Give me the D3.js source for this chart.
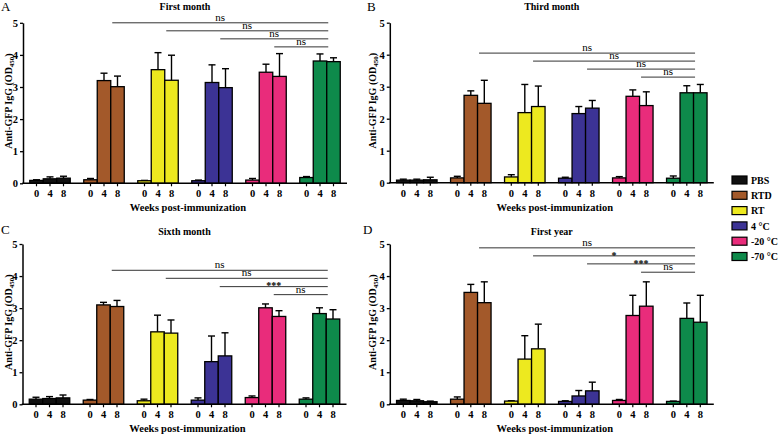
<!DOCTYPE html>
<html>
<head>
<meta charset="utf-8">
<script src="https://cdn.jsdelivr.net/npm/d3@7"></script>
<style>
  html, body { margin: 0; padding: 0; background: #fff; }
  svg { display: block; }
  text { font-family: "Liberation Serif", "Times New Roman", serif; }
</style>
</head>
<body>
<script>
// ---------------- DATA ----------------
const groups = ["PBS", "RTD", "RT", "4 °C", "-20 °C", "-70 °C"];
const weeks = ["0", "4", "8"];
const groupColors = ["#111111", "#a3592a", "#ede91f", "#3c3395", "#e92c7b", "#0e8a4b"];
const panelTitles = ["First month", "Third month", "Sixth month", "First year"];
const panelLetters = ["A", "B", "C", "D"];
const yTicks = [0, 1, 2, 3, 4, 5];

// means [group][week]
const firstMonthMean = [[0.09,0.14,0.16],[0.11,3.20,3.01],[0.08,3.54,3.21],[0.08,3.14,2.98],[0.10,3.46,3.33],[0.18,3.81,3.79]];
const firstMonthSD   = [[0.02,0.06,0.06],[0.04,0.23,0.33],[0.01,0.53,0.78],[0.02,0.55,0.59],[0.05,0.25,0.71],[0.03,0.22,0.12]];
const thirdMonthMean = [[0.08,0.08,0.09],[0.15,2.73,2.48],[0.18,2.19,2.38],[0.14,2.16,2.33],[0.15,2.70,2.41],[0.14,2.81,2.81]];
const thirdMonthSD   = [[0.03,0.03,0.08],[0.05,0.14,0.72],[0.07,0.88,0.64],[0.03,0.22,0.24],[0.04,0.20,0.43],[0.07,0.22,0.26]];
const sixthMonthMean = [[0.16,0.18,0.20],[0.13,3.10,3.05],[0.11,2.26,2.22],[0.13,1.33,1.51],[0.21,3.01,2.74],[0.16,2.83,2.66]];
const sixthMonthSD   = [[0.06,0.06,0.09],[0.02,0.08,0.19],[0.05,0.52,0.41],[0.07,0.80,0.72],[0.05,0.12,0.18],[0.04,0.18,0.29]];
const firstYearMean  = [[0.12,0.11,0.08],[0.16,3.49,3.17],[0.10,1.41,1.73],[0.09,0.26,0.42],[0.12,2.77,3.06],[0.09,2.68,2.56]];
const firstYearSD    = [[0.04,0.04,0.02],[0.07,0.25,0.65],[0.01,0.73,0.77],[0.02,0.17,0.27],[0.03,0.63,0.76],[0.01,0.48,0.84]];

// significance comparisons: each group vs "-70 °C" (week 8)
const sigFrom = ["RTD", "RT", "4 °C", "-20 °C"];
const sigTo = "-70 °C";
const sigHeightA = [5.00, 4.75, 4.50, 4.25];
const sigHeightB = [4.05, 3.80, 3.55, 3.30];
const sigHeightC = [4.18, 3.93, 3.67, 3.42];
const sigHeightD = [4.88, 4.63, 4.38, 4.12];
const sigLabelA = ["ns", "ns", "ns", "ns"];
const sigLabelB = ["ns", "ns", "ns", "ns"];
const sigLabelC = ["ns", "ns", "***", "ns"];
const sigLabelD = ["ns", "*", "***", "ns"];

const panelMeans = [firstMonthMean, thirdMonthMean, sixthMonthMean, firstYearMean];
const panelSDs = [firstMonthSD, thirdMonthSD, sixthMonthSD, firstYearSD];
const panelSigH = [sigHeightA, sigHeightB, sigHeightC, sigHeightD];
const panelSigL = [sigLabelA, sigLabelB, sigLabelC, sigLabelD];

// ---------------- LAYOUT ----------------
const W = 778, H = 434;
const plotW = 324;
const boxes = [
  { left: 23,    top: 22.8,  bottom: 183.3, titleY: 10.3,  letterX: 1,   letterY: 11,  ylabX: 8 },
  { left: 389.8, top: 22.7,  bottom: 182.7, titleY: 10.3,  letterX: 367, letterY: 11,  ylabX: 372 },
  { left: 22.5,  top: 244.0, bottom: 404.3, titleY: 234.8, letterX: 1,   letterY: 233.5, ylabX: 8 },
  { left: 389.8, top: 244.0, bottom: 404.3, titleY: 235.2, letterX: 363, letterY: 233.5, ylabX: 372 }
];

const svg = d3.select("body").append("svg").attr("width", W).attr("height", H);

boxes.forEach((b, pi) => {
  const g = svg.append("g");
  const x = d3.scaleBand().domain(groups).range([b.left, b.left + plotW])
    .paddingInner(0.25).paddingOuter(0.125);
  const xw = d3.scaleBand().domain(weeks).range([0, x.bandwidth()]);
  const y = d3.scaleLinear().domain([0, 5]).range([b.bottom, b.top]);

  const means = panelMeans[pi], sds = panelSDs[pi];
  const cells = [];
  groups.forEach((gr, gi) => weeks.forEach((w, wi) => {
    cells.push({ g: gr, w: w, gi: gi, m: means[gi][wi], sd: sds[gi][wi] });
  }));

  // error bars (up only)
  const eb = g.append("g").attr("stroke", "#000").attr("stroke-width", 1.4);
  cells.forEach(c => {
    const cx = x(c.g) + xw(c.w) + xw.bandwidth() / 2;
    eb.append("line").attr("x1", cx).attr("x2", cx).attr("y1", y(c.m)).attr("y2", y(c.m + c.sd));
    eb.append("line").attr("x1", cx - 3.5).attr("x2", cx + 3.5).attr("y1", y(c.m + c.sd)).attr("y2", y(c.m + c.sd));
  });

  // bars
  g.append("g").selectAll("rect").data(cells).join("rect")
    .attr("x", d => x(d.g) + xw(d.w))
    .attr("width", xw.bandwidth())
    .attr("y", d => y(d.m))
    .attr("height", d => b.bottom - y(d.m))
    .attr("fill", d => groupColors[d.gi])
    .attr("stroke", "#000")
    .attr("stroke-width", 1.3);

  // y axis
  const ya = g.append("g").attr("transform", `translate(${b.left},0)`)
    .call(d3.axisLeft(y).tickValues(yTicks).tickFormat(d3.format("d")).tickSize(3).tickSizeOuter(0).tickPadding(2));
  ya.select(".domain").attr("stroke-width", 1.5);
  ya.selectAll(".tick line").attr("stroke-width", 1.3);
  ya.selectAll(".tick text").attr("font-family", "Liberation Serif").attr("font-weight", "bold").attr("font-size", 10.5).attr("fill", "#000");

  // x axis line
  g.append("line").attr("x1", b.left - 0.75).attr("x2", b.left + plotW).attr("y1", b.bottom).attr("y2", b.bottom)
    .attr("stroke", "#000").attr("stroke-width", 1.5);
  // x ticks & labels at bar centers
  cells.forEach(c => {
    const cx = x(c.g) + xw(c.w) + xw.bandwidth() / 2;
    g.append("line").attr("x1", cx).attr("x2", cx).attr("y1", b.bottom).attr("y2", b.bottom + 3)
      .attr("stroke", "#000").attr("stroke-width", 1.2);
    g.append("text").attr("x", cx).attr("y", b.bottom + 13.8).attr("text-anchor", "middle")
      .attr("font-weight", "bold").attr("font-size", 10.5).text(c.w);
  });

  // x title
  g.append("text").attr("x", b.left + plotW / 2 + 3).attr("y", b.bottom + 27.8).attr("text-anchor", "middle")
    .attr("font-weight", "bold").attr("font-size", 10.5).text("Weeks post-immunization");

  // panel title
  g.append("text").attr("x", b.left + plotW / 2).attr("y", b.titleY).attr("text-anchor", "middle")
    .attr("font-weight", "bold").attr("font-size", 10).text(panelTitles[pi]);

  // panel letter
  g.append("text").attr("x", b.letterX).attr("y", b.letterY).attr("font-size", 13).text(panelLetters[pi]);

  // y label
  const yl = g.append("text")
    .attr("transform", `translate(${b.ylabX + 3.5},${(b.top + b.bottom) / 2 - 2}) rotate(-90)`)
    .attr("text-anchor", "middle").attr("font-weight", "bold").attr("font-size", 10);
  yl.append("tspan").text("Anti-GFP IgG (OD");
  yl.append("tspan").attr("font-size", 7).attr("dy", 2.5).text("450");
  yl.append("tspan").attr("dy", -2.5).text(")");

  // significance lines
  const sh = panelSigH[pi], sl = panelSigL[pi];
  sigFrom.forEach((f, si) => {
    const x1 = x(f) + xw("8") + 1.5;
    const x2 = x(sigTo) + xw("8") + 1.5;
    const yy = y(sh[si]);
    g.append("line").attr("x1", x1).attr("x2", x2).attr("y1", yy).attr("y2", yy)
      .attr("stroke", "#333").attr("stroke-width", 1);
    g.append("text").attr("x", (x1 + x2) / 2).attr("y", sl[si] === "ns" ? yy - 2 : yy + 2.8)
      .attr("text-anchor", "middle").attr("font-size", sl[si] === "ns" ? 11 : 10)
      .attr("font-weight", sl[si] === "ns" ? "normal" : "bold")
      .text(sl[si]);
  });
});

// ---------------- LEGEND ----------------
const legY = d3.scalePoint().domain(groups).range([180, 256.5]);
const leg = svg.append("g");
groups.forEach((gr, gi) => {
  leg.append("rect").attr("x", 732).attr("y", legY(gr) - 4).attr("width", 15).attr("height", 8)
    .attr("fill", groupColors[gi]).attr("stroke", "#000").attr("stroke-width", 1.2);
  leg.append("text").attr("x", 751).attr("y", legY(gr) + 3.6).attr("font-weight", "bold")
    .attr("font-size", 10).text(gr);
});
</script>
</body>
</html>
